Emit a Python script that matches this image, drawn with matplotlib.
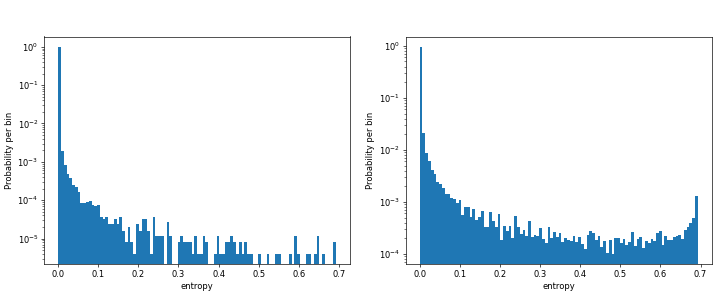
import matplotlib
matplotlib.use('Agg')
import matplotlib.pyplot as plt
import numpy as np

# 100 bins of entropy between 0 and ln(2)
n_bins = 100
entropy_max = np.log(2)

# left panel: raw counts per bin (normalised to probability below)
counts_left = [250000, 483, 207, 120, 95, 62, 55, 41, 21, 21,
               22, 24, 19, 18, 19, 9, 8, 9, 6, 6,
               8, 6, 9, 4, 2, 5, 2, 1, 6, 4,
               8, 8, 4, 1, 9, 3, 3, 3, 0, 7,
               3, 0, 0, 2, 3, 2, 2, 2, 1, 3,
               1, 1, 3, 2, 0, 0, 1, 3, 1, 1,
               2, 2, 3, 2, 1, 2, 1, 2, 1, 1,
               0, 0, 1, 0, 0, 1, 0, 0, 1, 1,
               0, 0, 0, 1, 0, 3, 1, 0, 0, 1,
               1, 0, 1, 3, 0, 1, 0, 0, 0, 2]

# right panel: probability per bin
prob_right = [0.955, 2.14e-2, 8.8e-3, 6.2e-3, 4.1e-3, 3.5e-3, 2.4e-3, 2.2e-3, 1.85e-3, 1.43e-3,
              1.43e-3, 1.19e-3, 1.15e-3, 9.4e-4, 1.1e-3, 5.6e-4, 7.9e-4, 7.9e-4, 5.2e-4, 7.4e-4,
              4.5e-4, 5.2e-4, 6.8e-4, 3.3e-4, 3.25e-4, 6.3e-4, 4.3e-4, 3.3e-4, 5.9e-4, 1.85e-4,
              3.5e-4, 2.75e-4, 3.5e-4, 2.07e-4, 5.3e-4, 3.3e-4, 2.43e-4, 2.9e-4, 2.2e-4, 4.3e-4,
              2.13e-4, 2.33e-4, 2.2e-4, 3.17e-4, 1.95e-4, 1.63e-4, 3.3e-4, 2.04e-4, 2.65e-4, 2.13e-4,
              2.54e-4, 1.7e-4, 2.04e-4, 1.89e-4, 1.81e-4, 2.2e-4, 1.7e-4, 2.13e-4, 1.56e-4, 1.25e-4,
              2.33e-4, 2.77e-4, 2.54e-4, 1.85e-4, 2.2e-4, 1.37e-4, 1.8e-4, 1.05e-4, 1.87e-4, 1.0e-4,
              2.04e-4, 2.04e-4, 1.63e-4, 1.95e-4, 1.5e-4, 1.7e-4, 2.65e-4, 1.43e-4, 1.95e-4, 2.13e-4,
              1.31e-4, 1.78e-4, 1.63e-4, 1.95e-4, 1.78e-4, 2.54e-4, 2.77e-4, 1.5e-4, 2.22e-4, 1.87e-4,
              1.87e-4, 2.13e-4, 2.22e-4, 2.33e-4, 1.95e-4, 2.9e-4, 3.3e-4, 3.95e-4, 4.9e-4, 1.3e-3]

xlabel = 'entropy'
ylabel = 'Probability per bin'


def plot_entropy_hist(ax, probs, edges):
    centers = 0.5 * (edges[:-1] + edges[1:])
    ax.hist(centers, bins=edges, weights=probs, log=True, color='#1f77b4')
    ax.set_xlabel(xlabel)
    ax.set_ylabel(ylabel)


edges = np.linspace(0, entropy_max, n_bins + 1)
counts = np.array(counts_left, dtype=float)
prob_left = counts / counts.sum()

W, H = 719, 297
fig = plt.figure(figsize=(W / 60, H / 60), dpi=60)
ax1 = fig.add_axes([44.3 / W, 1 - 264.3 / H, 305.7 / W, 227.8 / H])
ax2 = fig.add_axes([405.7 / W, 1 - 264.3 / H, 306.0 / W, 227.8 / H])

plot_entropy_hist(ax1, prob_left, edges)
plot_entropy_hist(ax2, np.array(prob_right), edges)

plt.savefig('out.png', dpi=60)
